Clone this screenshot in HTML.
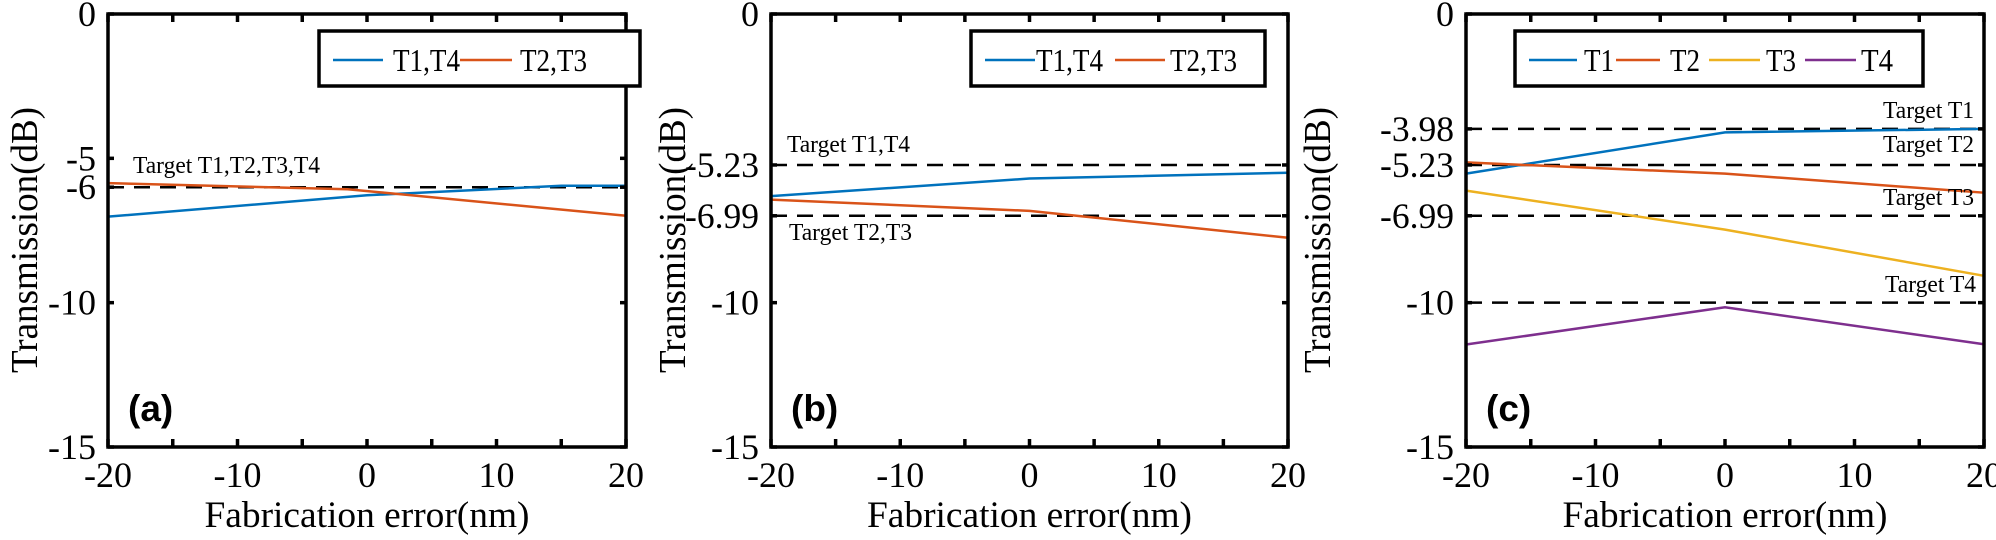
<!DOCTYPE html>
<html><head><meta charset="utf-8"><style>
html,body{margin:0;padding:0;background:#fff;}
svg{display:block;font-family:"Liberation Serif",serif;}
</style></head><body>
<svg id="fig" width="1996" height="540" viewBox="0 0 1996 540"></svg>
<script>
// ---- data ----
const xCats = [-20, -10, 0, 10, 20];
const xMinor = [-20,-15,-10,-5,0,5,10,15,20];
// panel a
const aX_T14 = [-20, 0, 15, 20];
const aY_T14 = [-7.02, -6.28, -5.95, -5.95];
const aX_T23 = [-20, -1.5, 20];
const aY_T23 = [-5.86, -6.07, -6.99];
const aTargets = [-6];
const aYTicks = [0, -5, -6, -10, -15];
// panel b
const bX = [-20, 0, 20];
const bY_T14 = [-6.31, -5.70, -5.50];
const bY_T23 = [-6.43, -6.82, -7.75];
const bTargets = [-5.23, -6.99];
const bYTicks = [0, -5.23, -6.99, -10, -15];
// panel c
const cX = [-20, 0, 20];
const cY_T1 = [-5.53, -4.10, -3.98];
const cY_T2 = [-5.14, -5.53, -6.19];
const cY_T3 = [-6.12, -7.47, -9.07];
const cY_T4 = [-11.45, -10.16, -11.44];
const cTargets = [-3.98, -5.23, -6.99, -10];
const cYTicks = [0, -3.98, -5.23, -6.99, -10, -15];

const NS = "http://www.w3.org/2000/svg";
const svg = document.getElementById('fig');
function mk(tag, attrs, parent){
  const e = document.createElementNS(NS, tag);
  for (const k in attrs) e.setAttribute(k, attrs[k]);
  (parent||svg).appendChild(e);
  return e;
}
const TOP = 14, BOT = 447;
const BLUE='#0072BD', RED='#D95319', YEL='#EDB120', PUR='#7E2F8E';

function panel(left, right, id){
  const g = mk('g', {});
  
  
  const sx = v => left + (v + 20) / 40 * (right - left);
  const sy = v => TOP + (-v) / 15 * (BOT - TOP);
  return {g, sx, sy, left, right};
}

function axes(P, yTicks, id, titleOff){
  const {g, sx, sy, left, right} = P;
  const box = mk('rect', {x:left, y:TOP, width:right-left, height:BOT-TOP, fill:'none', stroke:'#000', 'stroke-width':3.5}, g);
  
  
  xMinor.forEach(v=>{
    mk('line',{x1:sx(v),x2:sx(v),y1:BOT,y2:BOT-8,stroke:'#000','stroke-width':3.5},g);
    mk('line',{x1:sx(v),x2:sx(v),y1:TOP,y2:TOP+8,stroke:'#000','stroke-width':3.5},g);
  });
  xCats.forEach(v=>{
    const t = mk('text',{x:sx(v), y:BOT+40, 'font-size':36, 'text-anchor':'middle'},g);
    t.textContent = v;
    
    
  });
  yTicks.forEach(v=>{
    mk('line',{x1:left,x2:left+6,y1:sy(v),y2:sy(v),stroke:'#000','stroke-width':3.5},g);
    mk('line',{x1:right,x2:right-6,y1:sy(v),y2:sy(v),stroke:'#000','stroke-width':3.5},g);
    const a = {x:left-12, y:sy(v)+12, 'font-size':36, 'text-anchor':'end'};
    if (!Number.isInteger(v)) { a.textLength = 74; a.lengthAdjust = 'spacingAndGlyphs'; }
    const t = mk('text',a,g);
    t.textContent = v;
    
    
  });
  const xl = mk('text',{x:(left+right)/2, y:527, 'font-size':37, 'text-anchor':'middle', textLength:325, lengthAdjust:'spacingAndGlyphs'},g);
  xl.textContent = 'Fabrication error(nm)';
  
  
  const cx = left - titleOff + 13, cy = 240;
  const yl = mk('text',{x:cx, y:cy, 'font-size':38, 'text-anchor':'middle', textLength:266, lengthAdjust:'spacingAndGlyphs', transform:`rotate(-90 ${cx} ${cy})`},g);
  yl.textContent = 'Transmission(dB)';
  
  
  const pl = mk('text',{x:left+20, y:421, 'font-size':37, 'font-weight':'bold', 'font-family':'"Liberation Sans",sans-serif'},g);
  pl.textContent = '(' + id + ')';
  
  
}

function targets(P, vals){
  vals.forEach(v=>{
    const l = mk('line',{x1:P.left, x2:P.right, y1:P.sy(v), y2:P.sy(v), stroke:'#000','stroke-width':2.5,'stroke-dasharray':'16 10'},P.g);
    
    
  });
}
function series(P, xs, ys, color, name){
  const pts = xs.map((x,i)=>P.sx(x)+','+P.sy(ys[i])).join(' ');
  const l = mk('polyline',{points:pts, fill:'none', stroke:color, 'stroke-width':2.5},P.g);
  
  
}
function label(P, x, y, txt, anchor, w){
  const a = {x:x, y:y, 'font-size':24, 'text-anchor':anchor||'start'};
  if (w){ a.textLength = w; a.lengthAdjust = 'spacingAndGlyphs'; }
  const t = mk('text', a, P.g);
  t.textContent = txt;
  
  
}
function legend(P, x1, x2, entries){
  const lg = mk('g', {}, P.g);
  
  
  mk('rect',{x:x1, y:31, width:x2-x1, height:55, fill:'#fff', stroke:'#000','stroke-width':3.5},lg);
  entries.forEach(e=>{
    const en = mk('g', {}, lg);
    
    
    mk('line',{x1:e[0], x2:e[1], y1:60, y2:60, stroke:e[2], 'stroke-width':2.5}, en);
    const t = mk('text',{x:e[3], y:71, 'font-size':32, textLength:e[5], lengthAdjust:'spacingAndGlyphs'}, en);
    t.textContent = e[4];
  });
}

// Panel a
const A = panel(108, 626, 'a');
targets(A, aTargets);
series(A, aX_T14, aY_T14, BLUE, 'series-t1-t4');
series(A, aX_T23, aY_T23, RED, 'series-t2-t3');
axes(A, aYTicks, 'a', 84);
label(A, 133, 173, 'Target T1,T2,T3,T4', 'start', 187);
legend(A, 319, 640, [[333,383,BLUE,393,'T1,T4',67],[460,512,RED,520,'T2,T3',67]]);

// Panel b
const B = panel(771, 1288, 'b');
targets(B, bTargets);
series(B, bX, bY_T14, BLUE, 'series-t1-t4');
series(B, bX, bY_T23, RED, 'series-t2-t3');
axes(B, bYTicks, 'b', 99);
label(B, 787, 152, 'Target T1,T4', 'start', 123);
label(B, 789, 240, 'Target T2,T3', 'start', 123);
legend(B, 971, 1265, [[985,1035,BLUE,1036,'T1,T4',67],[1115,1165,RED,1170,'T2,T3',67]]);

// Panel c
const C = panel(1466, 1984, 'c');
targets(C, cTargets);
series(C, cX, cY_T1, BLUE, 'series-t1');
series(C, cX, cY_T2, RED, 'series-t2');
series(C, cX, cY_T3, YEL, 'series-t3');
series(C, cX, cY_T4, PUR, 'series-t4');
axes(C, cYTicks, 'c', 149);
label(C, 1974, 118, 'Target T1', 'end', 91);
label(C, 1974, 152, 'Target T2', 'end', 91);
label(C, 1974, 205, 'Target T3', 'end', 91);
label(C, 1976, 292, 'Target T4', 'end', 91);
legend(C, 1515, 1923, [[1529,1577,BLUE,1584,'T1',30],[1616,1660,RED,1670,'T2',30],[1709,1760,YEL,1766,'T3',30],[1805,1856,PUR,1861,'T4',32]]);
</script>
</body></html>
